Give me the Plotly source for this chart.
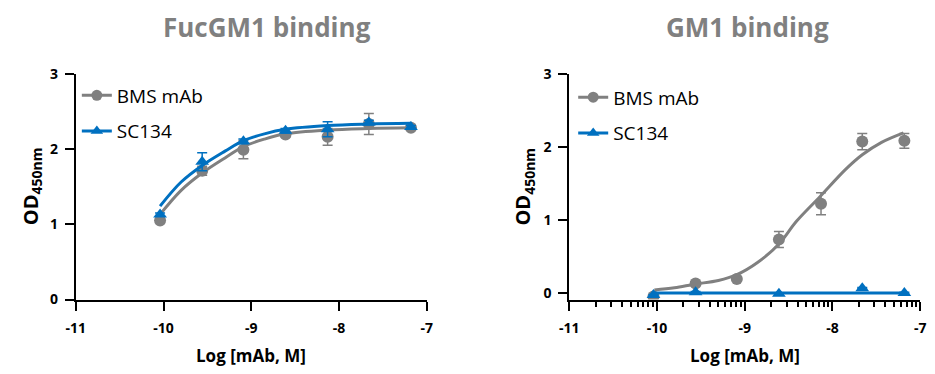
import math
import plotly.graph_objects as go

# ---------------- data ----------------
log_conc = [-10.04, -9.56, -9.09, -8.61, -8.13, -7.66, -7.18]

fuc_bms = [1.05, 1.71, 1.99, 2.19, 2.16, 2.33, 2.28]
fuc_bms_err = [0.02, 0.06, 0.12, 0.03, 0.11, 0.14, 0.03]
fuc_sc = [1.13, 1.83, 2.10, 2.24, 2.26, 2.35, 2.29]
fuc_sc_err = [0.02, 0.12, 0.03, 0.03, 0.10, 0.03, 0.02]

fuc_fit_x = [-10.04, -9.8, -9.56, -9.3, -9.09, -8.85, -8.61, -8.13, -7.66, -7.18]
fuc_bms_fit = [1.13, 1.45, 1.68, 1.88, 2.03, 2.13, 2.20, 2.25, 2.27, 2.28]
fuc_sc_fit = [1.24, 1.56, 1.78, 1.97, 2.11, 2.20, 2.26, 2.31, 2.33, 2.34]

gm1_bms = [-0.05, 0.13, 0.19, 0.73, 1.22, 2.07, 2.08]
gm1_bms_err = [0.02, 0.02, 0.02, 0.11, 0.15, 0.11, 0.10]
gm1_sc = [-0.03, 0.01, None, -0.01, None, 0.065, 0.0]
gm1_sc_err = [0.01, 0.01, 0.0, 0.01, 0.0, 0.01, 0.01]

gm1_fit_x = [-10.03, -9.8, -9.57, -9.3, -9.09, -8.85, -8.61, -8.41, -8.14, -7.85, -7.66, -7.44, -7.19]
gm1_bms_fit = [0.04, 0.07, 0.12, 0.17, 0.25, 0.42, 0.67, 0.98, 1.32, 1.69, 1.89, 2.06, 2.19]
gm1_sc_fit_x = [-10.03, -7.19]
gm1_sc_fit = [0.0, 0.0]

x_ticks = [-11, -10, -9, -8, -7]
x_ticktext = ["-11", "-10", "-9", "-8", "-7"]
y_ticks = [0, 1, 2, 3]
y_ticktext = ["0", "1", "2", "3"]

series_names = ["BMS mAb", "SC134"]
titles = ["FucGM1 binding", "GM1 binding"]

GRAY = "#808080"
BLUE = "#0070C0"
FONT = "Open Sans"
W, H = 935, 374

minor_vals = [d + math.log10(k) for d in range(-11, -7) for k in range(2, 10)]

fig = go.Figure()


def add_panel(xa, ya, legend, bms, bms_err, sc, sc_err, fx_b, fy_b, fx_s, fy_s):
    fig.add_trace(go.Scatter(x=fx_b, y=fy_b, mode="lines", line=dict(color=GRAY, width=3, shape="spline"),
                             xaxis=xa, yaxis=ya, showlegend=False, hoverinfo="skip"))
    fig.add_trace(go.Scatter(x=log_conc, y=bms, mode="markers",
                             marker=dict(symbol="circle", size=12, color=GRAY),
                             error_y=dict(type="data", array=bms_err, color=GRAY, thickness=1.5, width=5),
                             xaxis=xa, yaxis=ya, showlegend=False))
    fig.add_trace(go.Scatter(x=fx_s, y=fy_s, mode="lines", line=dict(color=BLUE, width=3, shape="spline"),
                             xaxis=xa, yaxis=ya, showlegend=False, hoverinfo="skip"))
    fig.add_trace(go.Scatter(x=log_conc, y=sc, mode="markers",
                             marker=dict(symbol="triangle-up", size=12, color=BLUE),
                             error_y=dict(type="data", array=sc_err, color=BLUE, thickness=1.5, width=5),
                             xaxis=xa, yaxis=ya, showlegend=False))
    fig.add_trace(go.Scatter(x=[None], y=[None], mode="lines+markers", name=series_names[0],
                             line=dict(color=GRAY, width=3), marker=dict(symbol="circle", size=11, color=GRAY),
                             xaxis=xa, yaxis=ya, legend=legend, legendgroup=legend + "a"))
    fig.add_trace(go.Scatter(x=[None], y=[None], mode="lines+markers", name=series_names[1],
                             line=dict(color=BLUE, width=3), marker=dict(symbol="triangle-up", size=11, color=BLUE),
                             xaxis=xa, yaxis=ya, legend=legend, legendgroup=legend + "b"))


add_panel("x", "y", "legend", fuc_bms, fuc_bms_err, fuc_sc, fuc_sc_err,
          fuc_fit_x, fuc_bms_fit, fuc_fit_x, fuc_sc_fit)
add_panel("x2", "y2", "legend2", gm1_bms, gm1_bms_err, gm1_sc, gm1_sc_err,
          gm1_fit_x, gm1_bms_fit, gm1_sc_fit_x, gm1_sc_fit)

ydom = [1 - 305 / H, 1 - 67 / H]
left_dom = [67 / W, 424 / W]
right_dom = [569 / W, 926 / W]

tickfont = dict(family=FONT, size=14, color="black", weight="bold")


def xaxis_cfg(dom, anchor, minor=None):
    cfg = dict(domain=dom, anchor=anchor, range=[-11, -7], tickmode="array", tickvals=x_ticks,
               ticktext=x_ticktext, showline=True, linewidth=2, linecolor="black", ticks="outside",
               ticklen=9, tickwidth=2, tickcolor="black", tickfont=tickfont, showgrid=False,
               zeroline=False, ticklabelstandoff=6, fixedrange=True)
    if minor:
        cfg["minor"] = minor
    return cfg


def yaxis_cfg(anchor, rng):
    return dict(domain=ydom, anchor=anchor, range=rng, tickmode="array", tickvals=y_ticks,
                ticktext=y_ticktext, showline=True, linewidth=2, linecolor="black", ticks="outside",
                ticklen=9, tickwidth=2, tickcolor="black", tickfont=tickfont, showgrid=False,
                zeroline=False, ticklabelstandoff=4, fixedrange=True)


legend_common = dict(font=dict(family=FONT, size=19, color="black"), bgcolor="rgba(0,0,0,0)",
                     borderwidth=0, traceorder="grouped", tracegroupgap=8, xanchor="left",
                     yanchor="top", itemclick=False, itemdoubleclick=False)

annotations = [
    dict(text=f"<b>{titles[0]}</b>", x=261.5 / W, y=1 - 18 / H, xref="paper", yref="paper",
         showarrow=False, xanchor="center", yanchor="middle",
         font=dict(family=FONT, size=26, color=GRAY)),
    dict(text=f"<b>{titles[1]}</b>", x=750 / W, y=1 - 18 / H, xref="paper", yref="paper",
         showarrow=False, xanchor="center", yanchor="middle",
         font=dict(family=FONT, size=26, color=GRAY)),
    dict(text="<b>Log [mAb, M]</b>", x=245.5 / W, y=1 - 364 / H, xref="paper", yref="paper",
         showarrow=False, xanchor="center", yanchor="middle",
         font=dict(family=FONT, size=17, color="black")),
    dict(text="<b>Log [mAb, M]</b>", x=747.5 / W, y=1 - 364 / H, xref="paper", yref="paper",
         showarrow=False, xanchor="center", yanchor="middle",
         font=dict(family=FONT, size=17, color="black")),
    dict(text="<b>OD<sub>450nm</sub></b>", x=22 / W, y=1 - 186 / H, xref="paper", yref="paper",
         showarrow=False, xanchor="center", yanchor="middle", textangle=-90,
         font=dict(family=FONT, size=20, color="black")),
    dict(text="<b>OD<sub>450nm</sub></b>", x=523 / W, y=1 - 186 / H, xref="paper", yref="paper",
         showarrow=False, xanchor="center", yanchor="middle", textangle=-90,
         font=dict(family=FONT, size=20, color="black")),
]

fig.update_layout(
    width=W, height=H,
    margin=dict(l=0, r=0, t=0, b=0),
    paper_bgcolor="white", plot_bgcolor="white",
    xaxis=xaxis_cfg(left_dom, "y"),
    yaxis=yaxis_cfg("x", [0, 3]),
    xaxis2=xaxis_cfg(right_dom, "y2", minor=dict(tickmode="array", tickvals=minor_vals, ticks="outside",
                                                  ticklen=5, tickwidth=2, tickcolor="black")),
    yaxis2=yaxis_cfg("x2", [-0.09, 3]),
    legend=dict(x=68 / W, y=1 - 70 / H, **legend_common),
    legend2=dict(x=573 / W, y=1 - 72 / H, **legend_common),
    annotations=annotations,
    showlegend=True,
)

fig.write_html("out.html", config={"displayModeBar": False},
               post_script="document.body.style.margin='0';document.body.style.padding='0';"
                           "document.body.style.overflow='hidden';")
